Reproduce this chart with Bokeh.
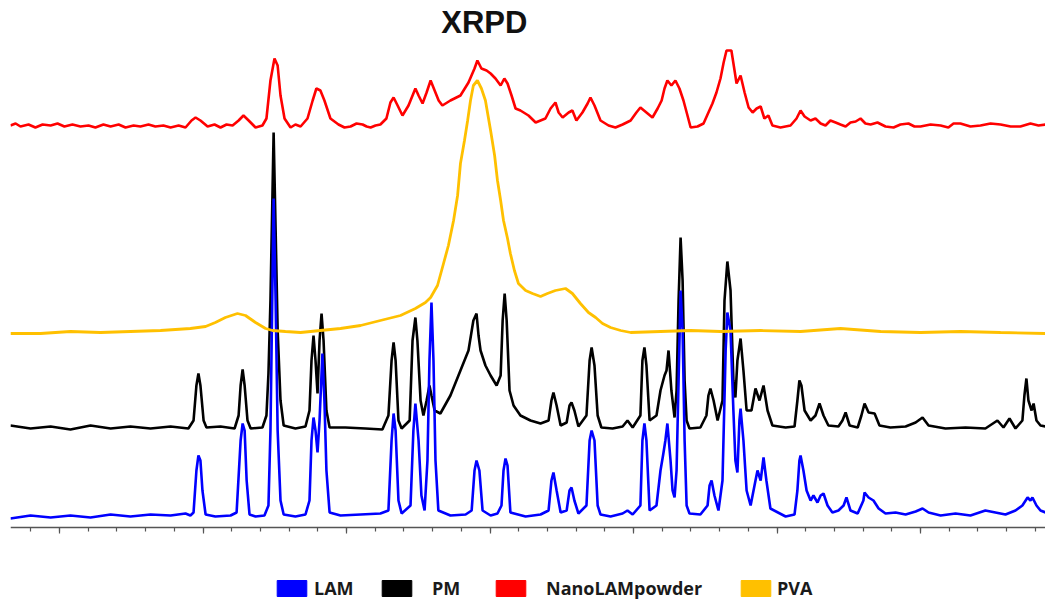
import numpy as np
from bokeh.plotting import figure
from bokeh.models import (Range1d, Legend, LegendItem, Label, LinearAxis,
                          FixedTicker, CustomJSTickFormatter, Grid)
from bokeh.core.properties import value
from bokeh.embed import file_html
from bokeh.resources import INLINE

# ---------------- data (2-theta in degrees, intensity in a.u.) ----------------
lam_2theta = [3.29, 3.99, 4.69, 5.38, 6.08, 6.78, 7.47, 8.17, 8.87, 9.39, 9.56, 9.67, 9.77, 9.84, 9.91, 9.98,
              10.09, 10.43, 10.96, 11.17, 11.31, 11.38, 11.45, 11.52, 11.62, 11.83, 12.14, 12.28, 12.35,
              12.46, 12.53, 12.60, 12.70, 12.81, 13.22, 13.57, 13.71, 13.78, 13.85, 13.92, 13.99, 14.06,
              14.16, 14.23, 14.30, 14.41, 14.79, 15.49, 16.18, 16.46, 16.57, 16.64, 16.71, 16.81, 16.92,
              17.23, 17.33, 17.40, 17.51, 17.61, 17.72, 17.82, 17.89, 17.96, 18.03, 18.10, 18.20, 18.62,
              19.15, 19.36, 19.46, 19.53, 19.63, 19.74, 20.02, 20.26, 20.40, 20.47, 20.54, 20.61, 20.71,
              21.24, 21.76, 22.04, 22.14, 22.21, 22.32, 22.46, 22.67, 22.77, 22.84, 22.94, 23.08, 23.36,
              23.47, 23.54, 23.64, 23.75, 23.85, 24.20, 24.62, 24.79, 24.97, 25.24, 25.31, 25.38, 25.45,
              25.56, 25.80, 25.94, 26.04, 26.11, 26.18, 26.29, 26.36, 26.43, 26.50, 26.57, 26.64, 26.71,
              26.78, 26.85, 26.95, 27.33, 27.58, 27.65, 27.72, 27.82, 27.96, 28.10, 28.21, 28.27, 28.38,
              28.48, 28.55, 28.62, 28.69, 28.73, 28.83, 28.94, 29.08, 29.25, 29.32, 29.43, 29.53, 29.63,
              29.77, 30.30, 30.61, 30.71, 30.78, 30.82, 30.92, 31.03, 31.17, 31.27, 31.41, 31.52, 31.62,
              31.76, 31.93, 32.14, 32.32, 32.42, 32.56, 32.81, 33.01, 33.05, 33.19, 33.36, 33.54, 33.78,
              34.13, 34.48, 34.83, 35.07, 35.28, 35.70, 36.22, 36.74, 37.26, 37.61, 37.96, 38.31, 38.55,
              38.73, 38.83, 38.90, 39.04, 39.18, 39.36]
lam_int = [9, 12, 10, 12, 10, 13, 11, 13, 12, 14, 12, 15, 57, 72, 67, 37,
           13, 11, 12, 15, 87, 104, 97, 47, 13, 11, 12, 22, 97,
           329, 227, 97, 27, 13, 11, 13, 27, 87, 110, 97, 75, 107,
           174, 127, 57, 15, 12, 13, 14, 17, 87, 114, 97, 27, 14,
           22, 97, 124, 87, 32, 17, 67, 167, 225, 167, 67, 17, 12,
           13, 17, 57, 67, 57, 17, 12, 14, 22, 57, 69, 62, 15,
           11, 13, 17, 47, 55, 37, 15, 17, 37, 40, 27, 14, 22,
           87, 97, 87, 22, 13, 11, 14, 17, 13, 22, 87, 104, 87,
           17, 22, 57, 74, 87, 104, 67, 37, 30, 57, 147, 237, 197,
           87, 22, 14, 13, 22, 42, 47, 32, 17, 47, 177, 215, 197,
           117, 67, 55, 107, 119, 87, 37, 22, 47, 57, 47, 70, 47,
           19, 11, 13, 37, 67, 72, 57, 37, 27, 32, 25, 32, 34,
           22, 15, 17, 22, 30, 17, 14, 27, 35, 30, 27, 19, 14,
           15, 13, 16, 19, 15, 12, 14, 12, 17, 15, 13, 17, 22,
           30, 27, 30, 22, 17, 15]

pm_2theta = [3.29, 3.99, 4.69, 5.38, 6.08, 6.78, 7.47, 8.17, 8.87, 9.49, 9.67, 9.77, 9.84, 9.91, 10.02,
             10.12, 10.61, 11.10, 11.24, 11.31, 11.38, 11.45, 11.55, 11.66, 12.07, 12.21, 12.28, 12.35,
             12.46, 12.53, 12.60, 12.70, 12.81, 13.22, 13.57, 13.71, 13.78, 13.85, 13.92, 13.99, 14.06,
             14.13, 14.20, 14.30, 14.41, 14.96, 15.66, 16.25, 16.46, 16.57, 16.64, 16.71, 16.81, 16.92,
             17.20, 17.30, 17.40, 17.47, 17.58, 17.68, 17.79, 17.89, 17.96, 18.07, 18.27, 18.62, 18.97,
             19.25, 19.42, 19.53, 19.60, 19.67, 19.84, 20.02, 20.23, 20.37, 20.44, 20.51, 20.58, 20.68,
             20.82, 21.06, 21.41, 21.76, 22.04, 22.14, 22.21, 22.32, 22.46, 22.67, 22.77, 22.84, 22.94,
             23.08, 23.36, 23.47, 23.54, 23.64, 23.75, 23.88, 24.27, 24.62, 24.79, 24.97, 25.24, 25.31,
             25.38, 25.45, 25.56, 25.80, 25.94, 26.08, 26.15, 26.22, 26.32, 26.43, 26.50, 26.57, 26.64,
             26.71, 26.78, 26.85, 26.95, 27.33, 27.54, 27.61, 27.68, 27.79, 27.93, 28.10, 28.17, 28.27,
             28.38, 28.48, 28.55, 28.62, 28.73, 28.83, 28.94, 29.11, 29.25, 29.39, 29.53, 29.67, 29.84,
             30.30, 30.61, 30.71, 30.78, 30.85, 30.96, 31.17, 31.34, 31.48, 31.62, 31.79, 32.14, 32.28,
             32.39, 32.53, 32.81, 32.94, 33.05, 33.19, 33.40, 33.57, 33.95, 34.48, 34.83, 35.07, 35.28,
             35.87, 36.57, 37.26, 37.68, 37.89, 38.10, 38.31, 38.55, 38.62, 38.69, 38.76, 38.87, 38.94,
             39.04, 39.18, 39.36]
pm_int = [12, 9, 11, 8, 12, 9, 11, 9, 11, 9, 17, 52, 64, 52, 17,
          10, 11, 9, 22, 52, 68, 52, 17, 9, 10, 22, 64, 137,
          305, 207, 107, 37, 12, 9, 11, 27, 77, 102, 77, 44, 97,
          124, 97, 27, 10, 10, 9, 8, 22, 77, 95, 77, 17, 9,
          17, 97, 120, 97, 37, 22, 37, 52, 42, 27, 24, 42, 67,
          87, 117, 124, 102, 87, 72, 62, 52, 62, 117, 144, 117, 47,
          32, 22, 17, 14, 17, 37, 45, 32, 12, 15, 32, 35, 27,
          11, 22, 77, 90, 72, 22, 10, 9, 11, 17, 10, 22, 77,
          90, 72, 17, 22, 47, 62, 67, 87, 47, 20, 47, 137, 200,
          157, 57, 17, 9, 10, 22, 42, 49, 37, 17, 37, 137, 176,
          147, 57, 40, 77, 99, 67, 27, 27, 49, 37, 52, 27, 12,
          10, 11, 37, 57, 52, 27, 17, 22, 34, 22, 12, 11, 17,
          25, 12, 10, 22, 34, 25, 24, 12, 10, 11, 15, 20, 12,
          9, 10, 9, 17, 10, 19, 9, 17, 42, 59, 37, 27, 34,
          17, 12, 11]

pva_2theta = [3.29, 4.34, 5.38, 6.43, 7.47, 8.52, 9.56, 10.09, 10.43, 10.78, 11.20, 11.48, 11.83, 12.18,
              12.42, 12.87, 13.40, 14.09, 14.79, 15.49, 16.18, 16.88, 17.40, 17.75, 17.93, 18.17, 18.38,
              18.55, 18.73, 18.87, 18.97, 19.11, 19.22, 19.32, 19.42, 19.56, 19.70, 19.84, 20.02, 20.16,
              20.26, 20.37, 20.47, 20.61, 20.71, 20.85, 20.99, 21.24, 21.48, 21.76, 22.00, 22.28, 22.63,
              22.87, 23.15, 23.43, 23.68, 23.92, 24.20, 24.55, 24.90, 25.94, 26.99, 28.03, 29.43, 30.82,
              32.21, 33.61, 35.00, 36.39, 37.79, 39.36]
pva_int = [14, 14, 16, 15, 16, 17, 19, 21, 25, 30, 34, 32, 25, 19,
           17, 16, 15, 17, 19, 22, 27, 32, 39, 45, 50, 62, 84,
           102, 127, 152, 184, 207, 227, 247, 262, 267, 259, 247, 217, 192,
           167, 147, 127, 109, 94, 77, 64, 57, 54, 51, 54, 57, 59,
           54, 44, 35, 30, 24, 20, 17, 15, 16, 17, 16, 17, 16,
           19, 16, 15, 16, 15, 14]

nano_2theta = [3.29, 3.47, 3.64, 3.92, 4.16, 4.41, 4.69, 4.93, 5.17, 5.45, 5.73, 6.01, 6.25, 6.53, 6.78,
               7.06, 7.30, 7.58, 7.82, 8.10, 8.34, 8.62, 8.87, 9.15, 9.39, 9.60, 9.74, 9.91, 10.16, 10.40,
               10.61, 10.82, 11.03, 11.24, 11.41, 11.59, 11.83, 12.07, 12.21, 12.35, 12.49, 12.60, 12.70,
               12.84, 13.05, 13.22, 13.40, 13.64, 13.82, 13.95, 14.09, 14.23, 14.44, 14.72, 14.93, 15.14,
               15.35, 15.56, 15.70, 15.84, 16.01, 16.18, 16.39, 16.53, 16.64, 16.78, 16.95, 17.16, 17.40,
               17.51, 17.65, 17.79, 17.93, 18.07, 18.21, 18.34, 18.62, 18.97, 19.25, 19.46, 19.56, 19.70,
               19.88, 20.02, 20.19, 20.37, 20.50, 20.61, 20.75, 20.89, 21.06, 21.34, 21.59, 21.93, 22.11,
               22.28, 22.39, 22.53, 22.74, 22.87, 23.01, 23.22, 23.40, 23.50, 23.64, 23.85, 24.13, 24.37,
               24.62, 24.90, 25.10, 25.24, 25.45, 25.66, 25.84, 25.98, 26.08, 26.18, 26.32, 26.46, 26.60,
               26.74, 26.88, 26.99, 27.23, 27.44, 27.61, 27.75, 27.89, 28.03, 28.14, 28.24, 28.41, 28.52,
               28.59, 28.73, 28.87, 29.01, 29.15, 29.29, 29.43, 29.56, 29.70, 29.84, 30.12, 30.47, 30.68,
               30.82, 30.96, 31.17, 31.34, 31.52, 31.69, 31.86, 32.04, 32.21, 32.39, 32.56, 32.74, 32.91,
               33.08, 33.26, 33.50, 33.78, 34.06, 34.30, 34.58, 34.79, 35.00, 35.35, 35.70, 35.97, 36.15,
               36.39, 36.74, 37.09, 37.44, 37.79, 38.14, 38.48, 38.83, 39.11, 39.36]
nano_int = [12, 14, 11, 13, 10, 13, 12, 14, 11, 13, 11, 12, 10, 13, 11,
            13, 10, 12, 11, 13, 11, 12, 10, 12, 10, 17, 20, 17, 11, 13,
            10, 13, 12, 17, 22, 17, 10, 12, 19, 57, 79, 72, 42,
            19, 10, 13, 11, 19, 37, 49, 47, 37, 19, 13, 10, 11,
            14, 13, 11, 10, 12, 13, 19, 35, 40, 32, 22, 32, 49,
            42, 34, 45, 57, 47, 37, 32, 37, 42, 55, 69, 77, 69,
            67, 64, 59, 52, 59, 54, 42, 29, 27, 22, 15, 19, 29,
            35, 25, 20, 25, 27, 17, 25, 34, 40, 32, 17, 12, 10,
            13, 17, 25, 30, 25, 20, 29, 37, 49, 57, 52, 57, 49,
            37, 22, 10, 11, 14, 25, 34, 45, 59, 75, 87, 87, 67,
            54, 62, 45, 30, 25, 29, 31, 19, 22, 12, 10, 12, 19,
            27, 21, 17, 19, 14, 12, 17, 15, 13, 11, 15, 16, 19,
            14, 13, 15, 11, 10, 13, 14, 11, 11, 13, 12, 10, 14,
            14, 11, 12, 14, 13, 11, 11, 14, 12, 13]

series_names = ["LAM", "PM", "NanoLAMpowder", "PVA"]
series_colors = ["#0000FF", "#000000", "#FF0000", "#FFC000"]
series_offsets = [0, 90, 390, 180]

major_ticks = [5, 10, 15, 20, 25, 30, 35]
minor_ticks = list(range(4, 40))

# ---------------- figure ----------------
W, H = 1045, 600
LEFT = 10
PX_PER_DEG = 28.7
x0 = 3.292
AXIS_Y = 527  # page row of the x axis
p = figure(width=W, height=H, output_backend="svg", toolbar_location=None,
           x_range=Range1d(x0, x0 + (W - LEFT) / PX_PER_DEG),
           y_range=Range1d(AXIS_Y - H, AXIS_Y),
           x_axis_location=None, y_axis_location=None,
           min_border_left=LEFT, min_border_right=0, min_border_top=0, min_border_bottom=0)
p.outline_line_color = None
p.background_fill_color = "white"
for r in list(p.center):
    if isinstance(r, Grid):
        r.visible = False

ax = LinearAxis(fixed_location=0,
                ticker=FixedTicker(ticks=major_ticks, minor_ticks=minor_ticks),
                formatter=CustomJSTickFormatter(code="return ''"),
                axis_line_color="#555555", axis_line_width=1.5,
                major_tick_in=0, major_tick_out=6, minor_tick_in=0, minor_tick_out=4,
                major_tick_line_color="#555555", minor_tick_line_color="#555555",
                major_tick_line_width=1.2, minor_tick_line_width=1.2,
                major_label_text_font_size="0px")
p.add_layout(ax, "below")

data = {
    "LAM": (lam_2theta, lam_int),
    "PM": (pm_2theta, pm_int),
    "NanoLAMpowder": (nano_2theta, nano_int),
    "PVA": (pva_2theta, pva_int),
}
col = dict(zip(series_names, series_colors))
off = dict(zip(series_names, series_offsets))

for name in ["PM", "LAM", "PVA", "NanoLAMpowder"]:
    xs, ys = data[name]
    p.line(np.array(xs), np.array(ys) + off[name], line_color=col[name],
           line_width=2.6 if name != "PVA" else 2.8)

# legend: one entry per swatch so each sits where it does in the original
legend_x = {"LAM": 263, "PM": 368, "NanoLAMpowder": 482, "PVA": 727}
legend_gap = {"LAM": 4, "PM": 17, "NanoLAMpowder": 17, "PVA": 3}
nan = [float("nan")]
for name in series_names:
    r = p.quad(left=nan, right=nan, top=nan, bottom=nan,
               fill_color=col[name], line_color=col[name])
    lg = Legend(items=[LegendItem(label=value(name), renderers=[r])],
                location=(legend_x[name], 0),
                glyph_width=37, glyph_height=20, label_standoff=legend_gap[name],
                padding=0, margin=0, border_line_color=None, background_fill_alpha=0,
                label_text_font="Open Sans", label_text_font_style="bold",
                label_text_font_size="18px", label_text_color="#1a1a1a",
                label_height=16)
    p.add_layout(lg, "center")

title = Label(x=19.8, y=505, text="XRPD", text_align="center", text_baseline="middle",
              text_font="Liberation Sans", text_font_style="bold", text_font_size="31px",
              text_color="#111111")
p.add_layout(title)

open("out.html", "w").write(file_html(p, INLINE))
